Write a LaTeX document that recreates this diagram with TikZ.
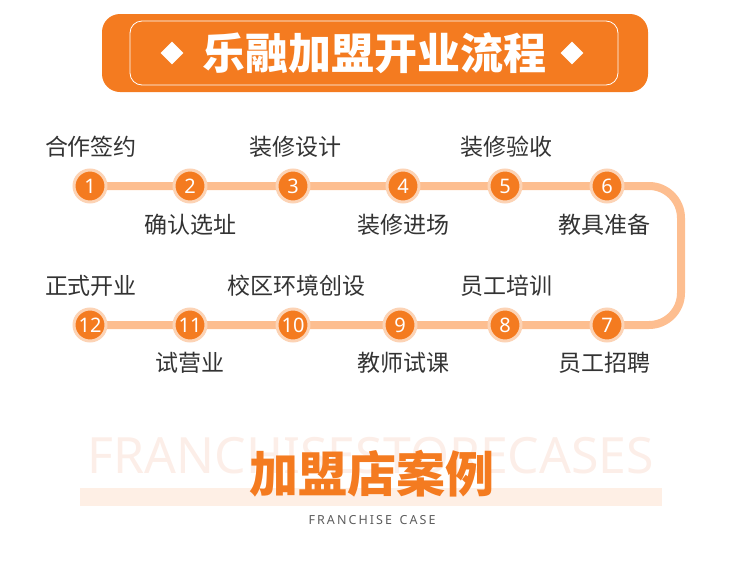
\documentclass[tikz,border=0pt]{standalone}
\usepackage{fontspec}
\setmainfont{Noto Sans CJK SC}
\newfontfamily\latinfont{Noto Sans}
\usetikzlibrary{backgrounds}
\usetikzlibrary{shapes.geometric}
\definecolor{brand}{HTML}{F47B20}
\definecolor{halo}{HTML}{FCD3B5}
\definecolor{trackc}{HTML}{FDBE90}
\definecolor{barc}{HTML}{FEEFE5}
\definecolor{markc}{HTML}{FCEEE8}
\definecolor{labelc}{HTML}{333333}
\tikzstyle{stepnum}=[circle,fill=brand,draw=halo,line width=3pt,minimum size=32pt,inner sep=0pt,text=white,font=\latinfont\fontsize{20}{20}\selectfont]
\tikzstyle{steplbl}=[text=labelc,inner sep=0pt,font=\fontsize{23}{23}\selectfont]
\tikzstyle{track}=[draw=trackc,line width=8pt,rounded corners=32pt]
\tikzstyle{gem}=[diamond,fill=white,minimum size=23pt,inner sep=0pt]

\begin{document}
\begin{tikzpicture}[x=1pt,y=-1pt]
  \useasboundingbox (0,0) rectangle (750,568);
  % title banner
  \node[fill=brand,rounded corners=18pt,minimum width=546pt,minimum height=78pt] (banner) at (375,53) {};
  \node[draw=white,line width=0.8pt,rounded corners=12pt,minimum width=488pt,minimum height=64pt] (frame) at (374,53) {};
  \node[text=white,font=\bfseries\fontsize{43}{43}\selectfont] (title) at (374,53) {乐融加盟开业流程};
  \node[gem] (gl) at (172,53) {};
  \node[gem] (gr) at (572,53) {};
  % steps, first row
  \node[stepnum] (s1) at (90,186) {1};
  \node[stepnum] (s2) at (190,186) {2};
  \node[stepnum] (s3) at (293,186) {3};
  \node[stepnum] (s4) at (403,186) {4};
  \node[stepnum] (s5) at (505,186) {5};
  \node[stepnum] (s6) at (607,186) {6};
  % steps, second row
  \node[stepnum] (s7) at (607,325) {7};
  \node[stepnum] (s8) at (505,325) {8};
  \node[stepnum] (s9) at (400,325) {9};
  \node[stepnum] (s10) at (293,325) {10};
  \node[stepnum] (s11) at (190,325) {11};
  \node[stepnum] (s12) at (90,325) {12};
  \coordinate (turn1) at (681,186);
  \coordinate (turn2) at (681,325);
  \begin{scope}[on background layer]
    \draw[track] (s1.center) -- (turn1) -- (turn2) -- (s12.center);
  \end{scope}
  % labels
  \node[steplbl] (l1) at (91,147) {合作签约};
  \node[steplbl] (l2) at (190,225) {确认选址};
  \node[steplbl] (l3) at (295,147) {装修设计};
  \node[steplbl] (l4) at (403,225) {装修进场};
  \node[steplbl] (l5) at (506,147) {装修验收};
  \node[steplbl] (l6) at (604,225) {教具准备};
  \node[steplbl] (l7) at (604,363) {员工招聘};
  \node[steplbl] (l8) at (506,286) {员工培训};
  \node[steplbl] (l9) at (403,363) {教师试课};
  \node[steplbl] (l10) at (296,286) {校区环境创设};
  \node[steplbl] (l11) at (190,363) {试营业};
  \node[steplbl] (l12) at (91,286) {正式开业};
  % franchise case heading
  \node[text=markc,inner sep=0pt,font=\latinfont\fontsize{50}{50}\selectfont] (mark) at (371,456) {FRANCHISESTORECASES};
  \node[fill=barc,minimum width=582pt,minimum height=18pt,inner sep=0pt] (bar) at (371,497) {};
  \node[text=brand,inner sep=0pt,font=\bfseries\fontsize{49}{49}\selectfont] (cases) at (372,474) {加盟店案例};
  \node[text=labelc!80,inner sep=0pt,font=\latinfont\fontsize{12.5}{12.5}\selectfont] (sub) at (372,520) {F\,R\,A\,N\,C\,H\,I\,S\,E\, \,C\,A\,S\,E};
\end{tikzpicture}
\end{document}
